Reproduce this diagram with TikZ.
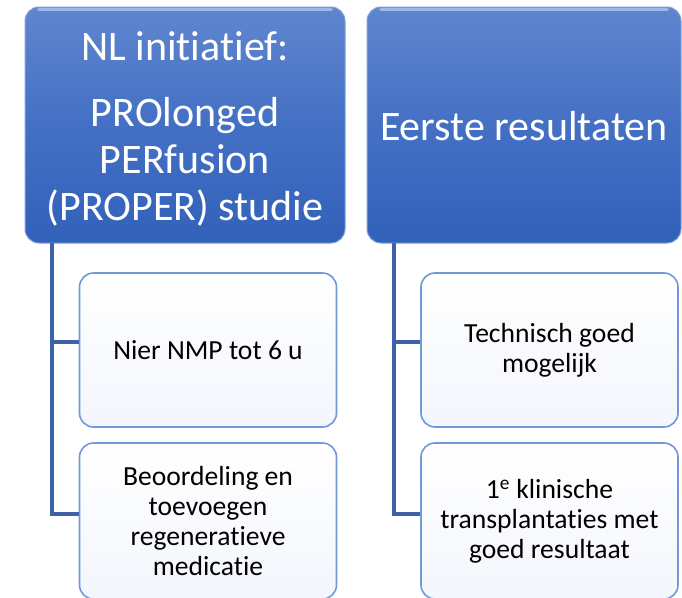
\documentclass[tikz,border=0pt]{standalone}
\usepackage{fontspec}
\setmainfont[RawFeature={-liga}]{Carlito}
\definecolor{hdTop}{HTML}{5F86CF}
\definecolor{hdMid}{HTML}{4470C4}
\definecolor{hdBot}{HTML}{3261BA}
\definecolor{hdEdge}{HTML}{7EA2E0}
\definecolor{hdShine}{HTML}{9DB8E8}
\definecolor{chEdge}{HTML}{7198D8}
\definecolor{chFill}{HTML}{F3F6FC}
\definecolor{conn}{HTML}{3F61A6}
\tikzset{
  header/.style={rounded corners=14pt, top color=hdTop, bottom color=hdBot, middle color=hdMid,
    draw=hdEdge, line width=1pt, minimum width=320pt, minimum height=236pt,
    inner sep=0pt},
  htext/.style={text=white, align=center, inner sep=0pt,
    font=\fontsize{42}{47}\selectfont},
  child/.style={rounded corners=14pt, top color=white, bottom color=chFill,
    draw=chEdge, line width=1.6pt, minimum width=257pt, minimum height=154pt,
    text=black, align=center, inner sep=0pt,
    font=\fontsize{27.6}{30}\selectfont},
  conline/.style={draw=conn, line width=3.2pt},
  shine/.style={draw=hdShine, line width=2.5pt, line cap=round}
}
\begin{document}
\begin{tikzpicture}[x=1pt,y=-1pt]
\useasboundingbox (0,0) rectangle (682,597);
\fill[white] (0,0) rectangle (682,597);
% headers
\node[header] (hL) at (185,125) {};
\node[header, minimum width=314pt] (hR) at (524,125) {};
\draw[shine] ([xshift=14pt,yshift=-3pt]hL.north west) -- ([xshift=-14pt,yshift=-3pt]hL.north east);
\draw[shine] ([xshift=14pt,yshift=-3pt]hR.north west) -- ([xshift=-14pt,yshift=-3pt]hR.north east);
\node[htext] (hLt) at ([yshift=-4pt]hL.center) {NL initiatief:\\[19pt]PROlonged\\PERfusion\\(PROPER) studie};
\node[htext] (hRt) at ([yshift=-1pt]hR.center) {Eerste resultaten};
% children
\node[child] (l1) at (208,350) {Nier NMP tot 6 u};
\node[child, minimum height=156pt] (l2) at (208,521) {Beoordeling en\\toevoegen\\regeneratieve\\medicatie};
\node[child] (r1) at (549.5,350) {Technisch goed\\mogelijk};
\node[child, minimum height=156pt] (r2) at (549.5,521) {1\textsuperscript{e} klinische\\transplantaties met\\goed resultaat};
% connectors
\coordinate (lTop) at (52,243);
\coordinate (rTop) at (394,243);
\draw[conline] (lTop) |- ([yshift=8pt]l1.west);
\draw[conline] (lTop) |- ([yshift=7pt]l2.west);
\draw[conline] (rTop) |- ([yshift=8pt]r1.west);
\draw[conline] (rTop) |- ([yshift=7pt]r2.west);
\end{tikzpicture}
\end{document}
